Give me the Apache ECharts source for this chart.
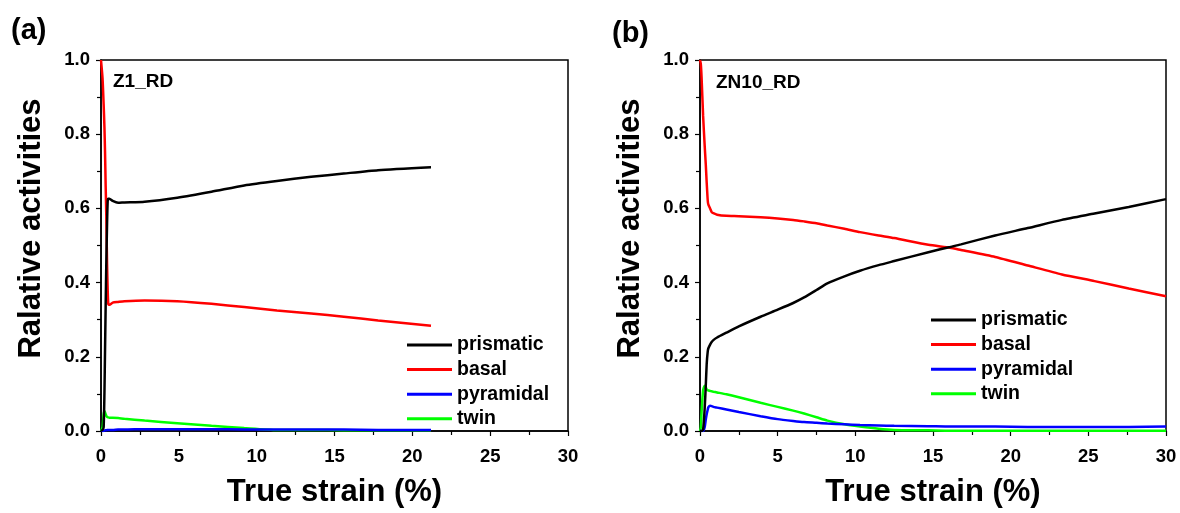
<!DOCTYPE html>
<html>
<head>
<meta charset="utf-8">
<script src="https://cdn.jsdelivr.net/npm/echarts@6/dist/echarts.min.js"></script>
<style>
  html, body { margin: 0; padding: 0; background: #fff; }
  #chart { width: 1180px; height: 513px; }
</style>
</head>
<body>
<div id="chart"></div>
<script>
// (a) Z1_RD
const z1Strain = [0, 0.1, 0.17, 0.22, 0.26, 0.3, 0.34, 0.39, 0.43, 0.47, 0.54, 0.75, 1.1, 1.5, 2.8, 4.9, 7.1, 9.2, 11.3, 13.5, 15.6, 17.8, 21.2];
const z1Prismatic = [0, 0.003, 0.01, 0.1, 0.22, 0.34, 0.45, 0.56, 0.62, 0.626, 0.626, 0.62, 0.615, 0.616, 0.618, 0.629, 0.645, 0.662, 0.674, 0.685, 0.694, 0.703, 0.711];
const z1Basal = [1.0, 0.95, 0.88, 0.82, 0.75, 0.66, 0.58, 0.45, 0.38, 0.342, 0.34, 0.346, 0.348, 0.35, 0.352, 0.35, 0.343, 0.334, 0.325, 0.317, 0.308, 0.298, 0.284];
const z1Pyramidal = [0, 0, 0, 0.001, 0.002, 0.002, 0.002, 0.003, 0.003, 0.003, 0.003, 0.003, 0.004, 0.004, 0.005, 0.005, 0.005, 0.004, 0.004, 0.004, 0.004, 0.003, 0.003];
const z1Twin = [0, 0.01, 0.045, 0.054, 0.05, 0.045, 0.041, 0.038, 0.037, 0.037, 0.036, 0.036, 0.035, 0.033, 0.028, 0.021, 0.014, 0.008, 0.003, 0.003, 0.002, 0.002, 0.002];

// (b) ZN10_RD
const zn10Strain = [0, 0.05, 0.1, 0.2, 0.3, 0.37, 0.43, 0.5, 0.54, 0.65, 0.75, 0.86, 1.1, 1.7, 2.5, 3.9, 5, 6, 6.7, 7.5, 8.2, 9.3, 10.3, 11.5, 12.5, 14.7, 16.1, 16.8, 19, 21.1, 23.3, 25.4, 27.6, 30];
const zn10Prismatic = [0, 0, 0, 0.004, 0.06, 0.12, 0.18, 0.215, 0.223, 0.233, 0.24, 0.245, 0.252, 0.265, 0.282, 0.308, 0.327, 0.345, 0.36, 0.38, 0.398, 0.417, 0.432, 0.447, 0.458, 0.482, 0.496, 0.503, 0.527, 0.547, 0.569, 0.586, 0.604, 0.625];
const zn10Basal = [1.0, 0.99, 0.955, 0.85, 0.77, 0.72, 0.67, 0.62, 0.61, 0.6, 0.59, 0.587, 0.583, 0.58, 0.579, 0.576, 0.573, 0.569, 0.565, 0.56, 0.554, 0.545, 0.536, 0.527, 0.52, 0.502, 0.494, 0.488, 0.469, 0.446, 0.422, 0.404, 0.384, 0.363];
const zn10Pyramidal = [0, 0, 0, 0, 0.01, 0.03, 0.045, 0.058, 0.064, 0.068, 0.067, 0.065, 0.063, 0.058, 0.051, 0.04, 0.032, 0.027, 0.024, 0.022, 0.02, 0.018, 0.016, 0.015, 0.014, 0.013, 0.012, 0.012, 0.012, 0.011, 0.011, 0.011, 0.011, 0.012];
const zn10Twin = [0, 0.01, 0.05, 0.11, 0.122, 0.118, 0.112, 0.11, 0.109, 0.108, 0.107, 0.106, 0.104, 0.099, 0.091, 0.076, 0.065, 0.055, 0.047, 0.037, 0.028, 0.018, 0.012, 0.006, 0.003, 0.002, 0.001, 0.001, 0.001, 0.001, 0.001, 0.001, 0.001, 0.001];

const seriesNames = ['prismatic', 'basal', 'pyramidal', 'twin'];
const seriesColors = ['#000000', '#ff0000', '#0000ff', '#00ff00'];

const font = 'Arial, "Liberation Sans", sans-serif';

function zip(xs, ys) {
  return xs.map((x, i) => [x, ys[i]]);
}

function makeXAxis(gridIndex) {
  return {
    gridIndex,
    type: 'value',
    min: 0,
    max: 30,
    interval: 5,
    name: 'True strain (%)',
    nameLocation: 'middle',
    nameGap: 46,
    nameTextStyle: {fontFamily: font, fontWeight: 'bold', fontSize: 31, color: '#000'},
    axisLine: {lineStyle: {color: '#000', width: 1.5}},
    axisTick: {inside: false, length: 5, lineStyle: {color: '#000', width: 1.2}},
    minorTick: {show: true, splitNumber: 2, length: 4, lineStyle: {color: '#000', width: 1.2}},
    axisLabel: {fontFamily: font, fontWeight: 'bold', fontSize: 18.5, color: '#000', margin: 16},
    splitLine: {show: false},
  };
}

function makeYAxis(gridIndex) {
  return {
    gridIndex,
    type: 'value',
    min: 0,
    max: 1,
    interval: 0.2,
    name: 'Ralative activities',
    nameLocation: 'middle',
    nameGap: 54,
    // pad the start so the title sits a little above the axis centre, as in the source
    nameTextStyle: {fontFamily: font, fontWeight: 'bold', fontSize: 31, color: '#000', padding: [0, 0, 0, 34]},
    axisLine: {lineStyle: {color: '#000', width: 1.5}},
    axisTick: {inside: false, length: 5, lineStyle: {color: '#000', width: 1.2}},
    minorTick: {show: true, splitNumber: 2, length: 4, lineStyle: {color: '#000', width: 1.2}},
    axisLabel: {
      fontFamily: font, fontWeight: 'bold', fontSize: 18.5, color: '#000', margin: 11,
      formatter: v => v.toFixed(1),
    },
    splitLine: {show: false},
  };
}

function makeSeries(idx, strain, values) {
  return values.map((vals, i) => ({
    name: seriesNames[i],
    type: 'line',
    xAxisIndex: idx,
    yAxisIndex: idx,
    data: zip(strain, vals),
    showSymbol: false,
    smooth: 0.2,
    color: seriesColors[i],
    lineStyle: {width: 2.5, color: seriesColors[i]},
    z: 10 - i,
  }));
}

function makeLegend(left, top) {
  return {
    data: seriesNames.map(n => ({name: n, icon: 'rect'})),
    orient: 'vertical',
    left,
    top,
    padding: 0,
    itemWidth: 45,
    itemHeight: 3,
    itemGap: 4.6,
    textStyle: {fontFamily: font, fontWeight: 'bold', fontSize: 19.5, color: '#000', lineHeight: 20},
  };
}

function label(text, left, top, size) {
  return {
    type: 'text',
    left,
    top,
    style: {text, fontFamily: font, fontWeight: 'bold', fontSize: size, fill: '#000'},
  };
}

const chart = echarts.init(document.getElementById('chart'), null, {renderer: 'canvas'});
chart.setOption({
  animation: false,
  backgroundColor: '#fff',
  grid: [
    {left: 101, top: 60, width: 467, height: 373, show: true, borderColor: '#000', borderWidth: 1.5},
    {left: 700, top: 60, width: 466, height: 374, show: true, borderColor: '#000', borderWidth: 1.5},
  ],
  xAxis: [makeXAxis(0), makeXAxis(1)],
  yAxis: [makeYAxis(0), makeYAxis(1)],
  legend: [makeLegend(407, 335), makeLegend(931, 310)],
  series: [
    ...makeSeries(0, z1Strain, [z1Prismatic, z1Basal, z1Pyramidal, z1Twin]),
    ...makeSeries(1, zn10Strain, [zn10Prismatic, zn10Basal, zn10Pyramidal, zn10Twin]),
  ],
  graphic: [
    label('(a)', 11, 16, 29),
    label('(b)', 612, 19, 29),
    label('Z1_RD', 113, 72, 19),
    label('ZN10_RD', 716, 73, 19),
  ],
});
</script>
</body>
</html>
